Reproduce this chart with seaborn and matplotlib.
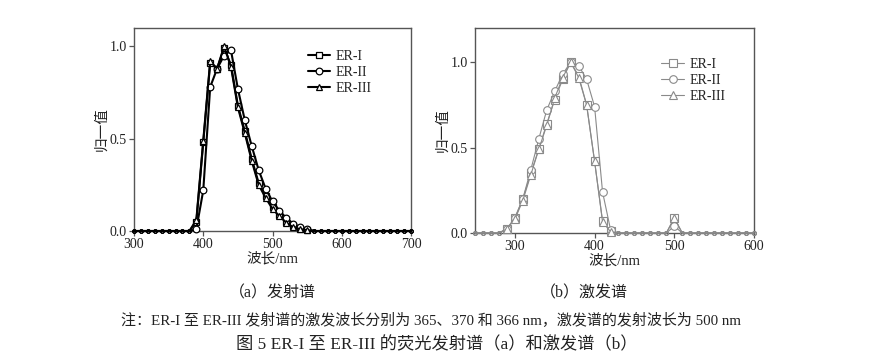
import numpy as np
import pandas as pd
import matplotlib
matplotlib.use("Agg")
import matplotlib.pyplot as plt
import seaborn as sns

sns.set_theme(style="white")
plt.rcParams['font.family'] = ['Liberation Serif', 'Noto Sans CJK SC']
plt.rcParams['axes.unicode_minus'] = False

# ---------------- data ----------------
series_names = ["ER-I", "ER-II", "ER-III"]

# (a) emission spectra
em_wavelength = list(range(300, 710, 10))
em_er1 = [0]*9 + [0.05, 0.48, 0.91, 0.88, 0.99, 0.90, 0.68, 0.54, 0.39, 0.26, 0.19,
                  0.13, 0.085, 0.05, 0.025, 0.012, 0.005] + [0]*15
em_er2 = [0]*9 + [0.01, 0.22, 0.78, 0.88, 0.95, 0.98, 0.77, 0.60, 0.46, 0.33, 0.23,
                  0.16, 0.11, 0.07, 0.04, 0.02, 0.01] + [0]*15
em_er3 = [0]*9 + [0.06, 0.49, 0.92, 0.88, 1.00, 0.89, 0.67, 0.53, 0.38, 0.25, 0.18,
                  0.12, 0.08, 0.045, 0.02, 0.01, 0.005] + [0]*15

# (b) excitation spectra
ex_wavelength = list(range(250, 610, 10))
ex_er1 = [0]*4 + [0.025, 0.085, 0.20, 0.35, 0.49, 0.64, 0.78, 0.90, 1.00, 0.92, 0.75,
                  0.42, 0.07, 0.01] + [0]*7 + [0.085] + [0]*10
ex_er2 = [0]*4 + [0.024, 0.09, 0.20, 0.37, 0.55, 0.72, 0.83, 0.93, 1.00, 0.98, 0.90,
                  0.74, 0.24, 0.02] + [0]*7 + [0.04] + [0]*10
ex_er3 = [0]*4 + [0.024, 0.08, 0.19, 0.34, 0.49, 0.63, 0.79, 0.91, 1.00, 0.91, 0.75,
                  0.42, 0.065, 0.008] + [0]*7 + [0.09] + [0]*10

em_ticks_x = [300, 400, 500, 600, 700]
ex_ticks_x = [300, 400, 500, 600]
y_ticks = [0.0, 0.5, 1.0]
markers = ["s", "o", "^"]

xlabel = "波长/nm"
ylabel = "归一值"
cap_a = "（a）发射谱"
cap_b = "（b）激发谱"
note = "注：ER-I 至 ER-III 发射谱的激发波长分别为 365、370 和 366 nm，激发谱的发射波长为 500 nm"
title = "图 5 ER-I 至 ER-III 的荧光发射谱（a）和激发谱（b）"

# ---------------- figure ----------------
fig = plt.figure(figsize=(8.69, 3.6), dpi=100)
ax_a = fig.add_axes([0.1542, 0.3583, 0.3188, 0.5639])
ax_b = fig.add_axes([0.5466, 0.3528, 0.3211, 0.5694])

spine_col = "#555555"
txt_col = "#222222"

def draw(ax, x, ys, color, lw, ms, mew, ms_base):
    for name, y, m in zip(series_names, ys, markers):
        yv = np.asarray(y, dtype=float)
        nz = [i for i in range(len(yv)) if yv[i] > 0]
        sns.lineplot(x=x, y=y, ax=ax, color=color, lw=lw, marker=m, markersize=ms,
                     markevery=nz, markerfacecolor="white", markeredgecolor=color,
                     markeredgewidth=mew, label=name, zorder=3, clip_on=False)
        zx = [x[i] for i in range(len(yv)) if yv[i] == 0]
        zy = [0.0] * len(zx)
        ax.plot(zx, zy, ls="none", marker="o", markersize=ms_base, markerfacecolor="none",
                markeredgecolor=color, markeredgewidth=0.7, zorder=3, clip_on=False)

draw(ax_a, em_wavelength, [em_er1, em_er2, em_er3], "black", 1.5, 4.8, 0.9, 2.6)
draw(ax_b, ex_wavelength, [ex_er1, ex_er2, ex_er3], "#8a8a8a", 0.8, 5.5, 0.8, 2.8)

for ax, xt, xl, yl in [(ax_a, em_ticks_x, (300, 700), (0, 1.1)),
                       (ax_b, ex_ticks_x, (250, 600), (0, 1.2))]:
    ax.set_xlim(*xl)
    ax.set_ylim(*yl)
    ax.set_xticks(xt)
    ax.set_yticks(y_ticks)
    ax.set_yticklabels(["0.0", "0.5", "1.0"])
    for s in ax.spines.values():
        s.set_visible(True)
        s.set_color(spine_col)
        s.set_linewidth(1.0)
    ax.tick_params(axis="both", direction="out", length=3.5, width=0.9, color=spine_col,
                   labelsize=10, pad=1.5, labelcolor=txt_col)
    ax.tick_params(axis="x", bottom=True)
    ax.tick_params(axis="y", left=True)
    ax.set_xlabel(xlabel, fontsize=10.5, labelpad=1, color=txt_col)
    ax.set_ylabel(ylabel, fontsize=10.5, labelpad=1, color=txt_col)
    ax.grid(False)

leg_kw = dict(frameon=False, fontsize=10, handlelength=1.6, handletextpad=0.4,
              labelspacing=0.2, borderpad=0, borderaxespad=0, loc="upper left")
leg_a = ax_a.legend(bbox_to_anchor=(0.628, 0.89), **leg_kw)
leg_b = ax_b.legend(bbox_to_anchor=(0.668, 0.852), **leg_kw)
for t in leg_a.get_texts() + leg_b.get_texts():
    t.set_color(txt_col)

fig.text(272/869, 1-293/360, cap_a, ha="center", va="center", fontsize=11.5, color=txt_col)
fig.text(584/869, 1-293/360, cap_b, ha="center", va="center", fontsize=11.5, color=txt_col)
fig.text(431/869, 1-320/360, note, ha="center", va="center", fontsize=10.8, color=txt_col)
fig.text(437/869, 1-345/360, title, ha="center", va="center", fontsize=12.4, color=txt_col)

fig.savefig("out.png", dpi=100)
